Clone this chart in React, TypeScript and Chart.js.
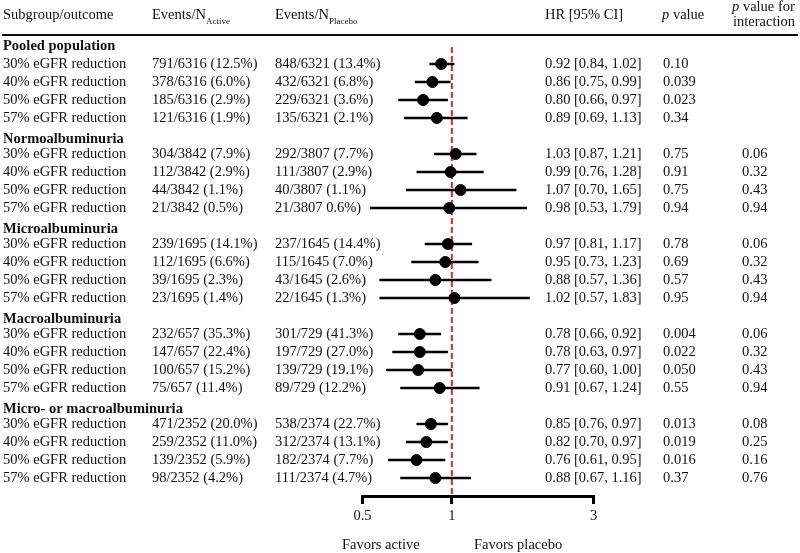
import React, { useEffect, useRef } from "react";
import { Chart, registerables } from "chart.js";
Chart.register(...registerables);

const groups = [
  "Pooled population",
  "Normoalbuminuria",
  "Microalbuminuria",
  "Macroalbuminuria",
  "Micro- or macroalbuminuria",
];
const outcomes = ["30% eGFR reduction", "40% eGFR reduction", "50% eGFR reduction", "57% eGFR reduction"];

const activeEvents = [
  "791/6316 (12.5%)", "378/6316 (6.0%)", "185/6316 (2.9%)", "121/6316 (1.9%)",
  "304/3842 (7.9%)", "112/3842 (2.9%)", "44/3842 (1.1%)", "21/3842 (0.5%)",
  "239/1695 (14.1%)", "112/1695 (6.6%)", "39/1695 (2.3%)", "23/1695 (1.4%)",
  "232/657 (35.3%)", "147/657 (22.4%)", "100/657 (15.2%)", "75/657 (11.4%)",
  "471/2352 (20.0%)", "259/2352 (11.0%)", "139/2352 (5.9%)", "98/2352 (4.2%)",
];
const placeboEvents = [
  "848/6321 (13.4%)", "432/6321 (6.8%)", "229/6321 (3.6%)", "135/6321 (2.1%)",
  "292/3807 (7.7%)", "111/3807 (2.9%)", "40/3807 (1.1%)", "21/3807 0.6%)",
  "237/1645 (14.4%)", "115/1645 (7.0%)", "43/1645 (2.6%)", "22/1645 (1.3%)",
  "301/729 (41.3%)", "197/729 (27.0%)", "139/729 (19.1%)", "89/729 (12.2%)",
  "538/2374 (22.7%)", "312/2374 (13.1%)", "182/2374 (7.7%)", "111/2374 (4.7%)",
];
const hr = [
  0.92, 0.86, 0.80, 0.89,
  1.03, 0.99, 1.07, 0.98,
  0.97, 0.95, 0.88, 1.02,
  0.78, 0.78, 0.77, 0.91,
  0.85, 0.82, 0.76, 0.88,
];
const ciLow = [
  0.84, 0.75, 0.66, 0.69,
  0.87, 0.76, 0.70, 0.53,
  0.81, 0.73, 0.57, 0.57,
  0.66, 0.63, 0.60, 0.67,
  0.76, 0.70, 0.61, 0.67,
];
const ciHigh = [
  1.02, 0.99, 0.97, 1.13,
  1.21, 1.28, 1.65, 1.79,
  1.17, 1.23, 1.36, 1.83,
  0.92, 0.97, 1.00, 1.24,
  0.97, 0.97, 0.95, 1.16,
];
const pValues = [
  "0.10", "0.039", "0.023", "0.34",
  "0.75", "0.91", "0.75", "0.94",
  "0.78", "0.69", "0.57", "0.95",
  "0.004", "0.022", "0.050", "0.55",
  "0.013", "0.019", "0.016", "0.37",
];
const pInteraction = [
  "", "", "", "",
  "0.06", "0.32", "0.43", "0.94",
  "0.06", "0.32", "0.43", "0.94",
  "0.06", "0.32", "0.43", "0.94",
  "0.08", "0.25", "0.16", "0.76",
];
const xTicks = [0.5, 1, 3];

const FONT = "'Liberation Serif', 'Times New Roman', serif";
const FS = 14.5;

const rowSlot = (i: number) => Math.floor(i / 4) * 5 + 1 + (i % 4);
const headerSlot = (g: number) => g * 5;

const tablePlugin = {
  id: "tableText",
  afterDraw(chart: any) {
    const ctx = chart.ctx as CanvasRenderingContext2D;
    const ys = chart.scales.y;
    ctx.save();
    ctx.fillStyle = "#111";
    ctx.textBaseline = "middle";
    ctx.textAlign = "left";
    const reg = `${FS}px ${FONT}`;
    const bold = `bold ${FS}px ${FONT}`;
    const ital = `italic ${FS}px ${FONT}`;
    const small = `9px ${FONT}`;

    // header
    ctx.font = reg;
    ctx.fillText("Subgroup/outcome", 3, 15);
    ctx.fillText("Events/N", 152, 15);
    let w = ctx.measureText("Events/N").width;
    ctx.font = small;
    ctx.fillText("Active", 152 + w, 22);
    ctx.font = reg;
    ctx.fillText("Events/N", 275, 15);
    w = ctx.measureText("Events/N").width;
    ctx.font = small;
    ctx.fillText("Placebo", 275 + w, 22);
    ctx.font = reg;
    ctx.fillText("HR [95% CI]", 545, 15);
    ctx.font = ital;
    ctx.fillText("p", 662, 15);
    let pw = ctx.measureText("p").width;
    ctx.font = reg;
    ctx.fillText(" value", 662 + pw, 15);
    ctx.font = ital;
    ctx.fillText("p", 732, 7.5);
    ctx.font = reg;
    ctx.fillText(" value for", 732 + pw, 7.5);
    ctx.fillText("interaction", 733, 22);

    // header rule
    ctx.strokeStyle = "#111";
    ctx.lineWidth = 2;
    ctx.beginPath();
    ctx.moveTo(2, 35);
    ctx.lineTo(798, 35);
    ctx.stroke();

    groups.forEach((g, gi) => {
      ctx.font = bold;
      const y = ys.getPixelForValue(headerSlot(gi)) + (gi === 0 ? 0 : 3);
      ctx.fillText(g, 3, y);
    });
    ctx.font = reg;
    hr.forEach((v, i) => {
      const y = ys.getPixelForValue(rowSlot(i));
      ctx.fillText(outcomes[i % 4], 3, y);
      ctx.fillText(activeEvents[i], 152, y);
      ctx.fillText(placeboEvents[i], 275, y);
      ctx.fillText(`${v.toFixed(2)} [${ciLow[i].toFixed(2)}, ${ciHigh[i].toFixed(2)}]`, 545, y);
      ctx.fillText(pValues[i], 663, y);
      ctx.fillText(pInteraction[i], 742, y);
    });

    ctx.fillText("Favors active", 342, 545);
    ctx.fillText("Favors placebo", 474, 545);
    ctx.restore();
  },
};

export default function App() {
  const ref = useRef<HTMLCanvasElement | null>(null);
  useEffect(() => {
    if (!ref.current) return;
    const ciSets = hr.map((_, i) => ({
      type: "line" as const,
      data: [
        { x: ciLow[i], y: rowSlot(i) },
        { x: ciHigh[i], y: rowSlot(i) },
      ],
      borderColor: "#000",
      borderWidth: 2.5,
      pointRadius: 0,
      showLine: true,
      order: 2,
    }));
    const chart = new Chart(ref.current, {
      type: "scatter",
      data: {
        datasets: [
          {
            type: "line",
            data: [
              { x: 1, y: 0.05 },
              { x: 1, y: 25 },
            ],
            borderColor: "#d42a2a",
            borderWidth: 2,
            borderDash: [6, 3],
            pointRadius: 0,
            showLine: true,
            order: 3,
          } as any,
          ...ciSets,
          {
            data: hr.map((v, i) => ({ x: v, y: rowSlot(i) })),
            backgroundColor: "#000",
            borderColor: "#000",
            pointRadius: 5.5,
            order: 1,
          },
        ],
      },
      options: {
        responsive: false,
        animation: false,
        layout: { padding: { left: 362.5, right: 206.5, top: 35, bottom: 0 } },
        plugins: { legend: { display: false }, tooltip: { enabled: false } },
        scales: {
          x: {
            type: "logarithmic",
            min: 0.5,
            max: 3,
            afterBuildTicks: (s: any) => {
              s.ticks = xTicks.map((v) => ({ value: v }));
            },
            afterFit: (s: any) => {
              s.height = 57;
            },
            grid: {
              drawOnChartArea: false,
              drawTicks: true,
              tickLength: 8,
              lineWidth: 3,
              color: "#000",
            },
            border: { display: true, width: 3, color: "#000" },
            ticks: {
              color: "#111",
              font: { family: FONT, size: FS },
              autoSkip: false,
              maxRotation: 0,
              padding: 3,
              callback: (v: any) => String(v),
            },
          },
          y: {
            type: "linear",
            reverse: true,
            min: -0.61,
            max: 25,
            display: false,
          },
        },
      },
      plugins: [tablePlugin],
    } as any);
    return () => chart.destroy();
  }, []);
  return (
    <div style={{ position: "absolute", left: 0, top: 0, width: 800, height: 553, background: "#fff" }}>
      <canvas ref={ref} width={800} height={553} style={{ width: 800, height: 553 }} />
    </div>
  );
}
